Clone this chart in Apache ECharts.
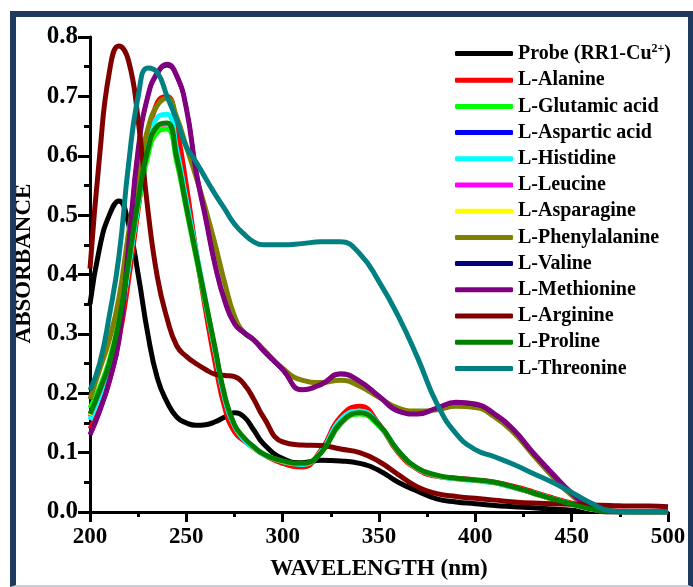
<!DOCTYPE html>
<html>
<head>
<meta charset="utf-8">
<script src="https://cdn.jsdelivr.net/npm/echarts@6/dist/echarts.min.js"></script>
<style>
  html, body { margin: 0; padding: 0; background: #fff; }
  #wrap { position: relative; width: 693px; height: 587px; overflow: hidden; }
  #main { position: absolute; left: 0; top: 0; width: 693px; height: 587px; }
  #frame {
    position: absolute; left: 10px; top: 11px; width: 683px; height: 576px;
    box-sizing: border-box; pointer-events: none;
    border-left: 6px solid #1e3a5f; border-top: 6px solid #1e3a5f;
    border-right: 5px solid #1e3a5f; border-bottom: 2px solid #c3cfdb;
  }
</style>
</head>
<body>
<div id="wrap">
  <div id="main"></div>
  <div id="frame"></div>
</div>
<script>
var wavelength = [200,205,210,215,220,225,230,235,240,245,250,255,260,265,270,275,280,285,290,300,310,320,330,340,350,360,370,380,390,400,410,420,430,440,450,460,470,480,490,500];

var probe       = [0.35,0.445,0.50,0.524,0.485,0.40,0.30,0.225,0.185,0.16,0.15,0.146,0.147,0.152,0.16,0.167,0.16,0.138,0.115,0.09,0.083,0.087,0.086,0.082,0.07,0.05,0.035,0.022,0.017,0.014,0.011,0.009,0.007,0.005,0.003,0.002,0.001,0.001,0.001,0.001];
var alanine     = [0.14,0.175,0.22,0.29,0.39,0.51,0.62,0.69,0.70,0.645,0.55,0.44,0.34,0.25,0.175,0.135,0.12,0.108,0.097,0.082,0.076,0.105,0.16,0.178,0.148,0.10,0.072,0.06,0.057,0.054,0.05,0.043,0.034,0.024,0.015,0.007,0.002,0.001,0,0];
var glutamic    = [0.175,0.21,0.255,0.32,0.415,0.515,0.60,0.64,0.645,0.59,0.51,0.43,0.35,0.27,0.192,0.145,0.122,0.108,0.097,0.085,0.081,0.1,0.148,0.165,0.145,0.102,0.073,0.061,0.056,0.053,0.049,0.041,0.032,0.022,0.013,0.005,0.001,0,0,0];
var aspartic    = [0.16,0.2,0.245,0.315,0.415,0.52,0.61,0.65,0.655,0.598,0.514,0.434,0.354,0.274,0.195,0.146,0.124,0.109,0.097,0.085,0.081,0.1,0.149,0.166,0.146,0.102,0.073,0.061,0.056,0.053,0.049,0.041,0.031,0.021,0.012,0.004,0.001,0,0,0];
var histidine   = [0.155,0.195,0.24,0.31,0.41,0.52,0.615,0.665,0.67,0.61,0.525,0.44,0.355,0.27,0.19,0.145,0.122,0.108,0.097,0.085,0.08,0.102,0.155,0.17,0.147,0.103,0.073,0.061,0.056,0.053,0.049,0.041,0.032,0.022,0.013,0.005,0.001,0,0,0];
var leucine     = [0.162,0.202,0.247,0.317,0.417,0.522,0.608,0.648,0.653,0.596,0.513,0.433,0.353,0.273,0.194,0.146,0.124,0.109,0.097,0.085,0.081,0.1,0.149,0.166,0.146,0.102,0.073,0.061,0.056,0.053,0.049,0.041,0.031,0.021,0.012,0.004,0.001,0,0,0];
var asparagine  = [0.163,0.204,0.249,0.319,0.419,0.524,0.609,0.649,0.654,0.597,0.514,0.434,0.354,0.274,0.195,0.146,0.124,0.109,0.097,0.085,0.081,0.1,0.149,0.166,0.146,0.102,0.073,0.061,0.056,0.053,0.049,0.041,0.031,0.021,0.012,0.004,0.001,0,0,0];
var phenylalanine = [0.19,0.24,0.29,0.36,0.47,0.57,0.645,0.685,0.697,0.665,0.615,0.565,0.51,0.45,0.385,0.33,0.302,0.29,0.274,0.242,0.222,0.218,0.222,0.212,0.193,0.175,0.17,0.172,0.178,0.176,0.16,0.133,0.096,0.06,0.028,0.007,0,0,0,0];
var valine      = [0.13,0.17,0.22,0.29,0.445,0.61,0.70,0.738,0.752,0.733,0.68,0.575,0.495,0.415,0.355,0.317,0.301,0.289,0.271,0.239,0.206,0.215,0.232,0.22,0.195,0.17,0.165,0.175,0.184,0.181,0.164,0.137,0.099,0.064,0.031,0.008,0,0,0,0];
var methionine  = [0.13,0.17,0.22,0.29,0.445,0.61,0.70,0.74,0.754,0.735,0.68,0.575,0.495,0.415,0.355,0.317,0.302,0.29,0.272,0.24,0.206,0.215,0.233,0.22,0.195,0.17,0.165,0.175,0.185,0.182,0.165,0.138,0.1,0.065,0.032,0.008,0,0,0,0];
var arginine    = [0.41,0.60,0.74,0.785,0.76,0.66,0.51,0.395,0.326,0.28,0.262,0.25,0.24,0.232,0.23,0.228,0.215,0.19,0.16,0.118,0.113,0.112,0.106,0.1,0.085,0.063,0.042,0.031,0.026,0.023,0.02,0.017,0.015,0.014,0.013,0.012,0.011,0.01,0.01,0.009];
var proline     = [0.165,0.205,0.25,0.32,0.42,0.525,0.61,0.65,0.655,0.598,0.515,0.435,0.355,0.275,0.195,0.147,0.125,0.11,0.098,0.086,0.082,0.1,0.15,0.167,0.147,0.103,0.074,0.062,0.057,0.054,0.05,0.042,0.032,0.022,0.013,0.005,0.001,0,0,0];
var threonine   = [0.205,0.25,0.33,0.43,0.585,0.70,0.748,0.74,0.70,0.66,0.615,0.59,0.562,0.535,0.51,0.485,0.468,0.455,0.45,0.45,0.452,0.455,0.455,0.435,0.388,0.33,0.26,0.183,0.132,0.105,0.093,0.08,0.065,0.05,0.033,0.015,0.002,0,0,0];

var names = ['Probe (RR1-Cu2+)','L-Alanine','L-Glutamic acid','L-Aspartic acid','L-Histidine','L-Leucine','L-Asparagine','L-Phenylalanine','L-Valine','L-Methionine','L-Arginine','L-Proline','L-Threonine'];
var colors = ['#000000','#ff0000','#00ff00','#0000ff','#00ffff','#ff00ff','#ffff00','#808000','#000080','#800080','#800000','#008000','#008080'];
var values = [probe, alanine, glutamic, aspartic, histidine, leucine, asparagine, phenylalanine, valine, methionine, arginine, proline, threonine];
// these sit underneath other curves in the original
var hidden = ['L-Aspartic acid','L-Leucine','L-Asparagine','L-Valine'];

var font = "'Liberation Serif','Times New Roman',serif";

function pairs(arr){
    var out = [];
    for (var i = 0; i < wavelength.length; i++) {
        out.push([wavelength[i], arr[i]]);
    }
    return out;
}

var series = [];
for (var i = 0; i < names.length; i++) {
    series.push({
        name: names[i],
        type: 'line',
        smooth: 0.5,
        symbol: 'none',
        color: colors[i],
        lineStyle: { width: hidden.indexOf(names[i]) >= 0 ? 4 : 5, color: colors[i] },
        data: pairs(values[i])
    });
}

var myChart = echarts.init(document.getElementById('main'), null, { renderer: 'canvas' });
myChart.setOption({
    animation: false,
    backgroundColor: '#ffffff',
    grid: { left: 90, top: 37, right: 25, bottom: 75, containLabel: false, outerBoundsMode: 'none' },
    legend: {
        orient: 'vertical',
        left: 450,
        top: 38,
        icon: 'roundRect',
        itemWidth: 58,
        itemHeight: 5,
        itemGap: 6.2,
        data: names,
        formatter: function(name){
            if (name == 'Probe (RR1-Cu2+)') return 'Probe (RR1-Cu{sup|2+})';
            return name;
        },
        textStyle: {
            fontFamily: font,
            fontWeight: 'bold',
            fontSize: 20,
            lineHeight: 20,
            color: '#000',
            rich: {
                sup: { fontFamily: font, fontWeight: 'bold', fontSize: 12, lineHeight: 20, padding: [0, 0, 9, 0], color: '#000' }
            }
        }
    },
    xAxis: {
        type: 'value',
        min: 200,
        max: 500,
        interval: 50,
        name: 'WAVELENGTH (nm)',
        nameLocation: 'middle',
        nameGap: 46,
        nameTextStyle: { fontFamily: font, fontWeight: 'bold', fontSize: 23, color: '#000' },
        axisLine: { show: true, lineStyle: { color: '#000', width: 3 } },
        axisTick: { show: true, inside: false, length: 10, lineStyle: { color: '#000', width: 3 } },
        minorTick: { show: true, splitNumber: 2, length: 5, lineStyle: { color: '#000', width: 3 } },
        splitLine: { show: false },
        axisLabel: { margin: 14, fontFamily: font, fontWeight: 'bold', fontSize: 23, color: '#000' }
    },
    yAxis: {
        type: 'value',
        min: 0,
        max: 0.8,
        interval: 0.1,
        name: 'ABSORBANCE',
        nameLocation: 'middle',
        nameGap: 40,
        nameTextStyle: { fontFamily: font, fontWeight: 'bold', fontSize: 23, color: '#000', padding: [0, 0, 0, 22] },
        axisLine: { show: true, lineStyle: { color: '#000', width: 3 } },
        axisTick: { show: true, inside: false, length: 12, lineStyle: { color: '#000', width: 3 } },
        minorTick: { show: true, splitNumber: 2, length: 6, lineStyle: { color: '#000', width: 3 } },
        splitLine: { show: false },
        axisLabel: {
            margin: 12,
            fontFamily: font, fontWeight: 'bold', fontSize: 25, color: '#000',
            formatter: function(v){ return v.toFixed(1); }
        }
    },
    series: series
});
</script>
</body>
</html>
